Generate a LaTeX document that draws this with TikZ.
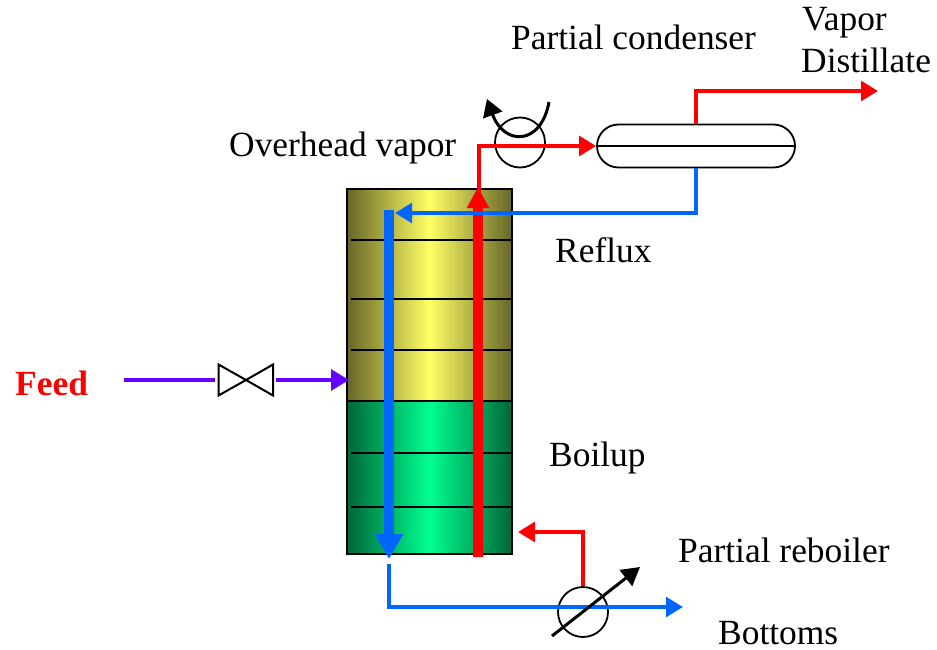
\documentclass[tikz,border=0pt]{standalone}
\usepackage{fontspec}
\setmainfont{Liberation Serif}
\usetikzlibrary{arrows.meta,shapes.misc,calc}
\definecolor{redf}{HTML}{FF0000}
\definecolor{bluef}{HTML}{0066FF}
\definecolor{purf}{HTML}{6600FF}
\definecolor{oliveD}{HTML}{666628}
\definecolor{oliveL}{HTML}{FFFF66}
\definecolor{greenD}{HTML}{006638}
\definecolor{greenL}{HTML}{00FF90}
\tikzset{
  lbl/.style={anchor=base west,inner sep=0pt,font=\fontsize{35.4}{38}\selectfont,text=black},
  thin red/.style={draw=redf,line width=4pt},
  thin blue/.style={draw=bluef,line width=4pt},
  thin pur/.style={draw=purf,line width=4pt},
  thick red/.style={draw=redf,line width=10pt},
  thick blue/.style={draw=bluef,line width=10pt},
  hd/.style={-{Triangle[length=#1,width=#1*1.15]}},
  equip/.style={circle,draw=black,line width=1.8pt,minimum size=50pt,inner sep=0pt},
  tray/.style={draw=black,line width=2.4pt},
  secbox/.style={rectangle,draw=black,line width=2.2pt,minimum width=165pt,inner sep=0pt,shading=axis,shading angle=90},
  ctl/.style={draw=black,line width=3pt}
}
\begin{document}
\begin{tikzpicture}[x=1pt,y=-1pt]
\useasboundingbox (0,0) rectangle (937,650);
% column
\node[secbox,minimum height=212pt,left color=oliveD,right color=oliveD,middle color=oliveL] (top) at (429.5,295) {};
\node[secbox,minimum height=153pt,left color=greenD,right color=greenD,middle color=greenL] (bot) at (429.5,477.5) {};
\foreach \y in {240,299,350,453,507}{
  \draw[tray] (351,\y) -- (511,\y);
}
% equipment
\node[equip] (cond) at (520,142.5) {};
\node[equip] (reb) at (583,612) {};
\node[rounded rectangle,draw=black,line width=1.8pt,minimum width=198pt,minimum height=43pt,inner sep=0pt] (drum) at (696,146) {};
\draw[draw=black,line width=1.8pt] (drum.west) -- (drum.east);
% valve
\coordinate (v) at (246,380);
\draw[black,line width=2pt,line join=miter] (v) -- (218.5,364.5) -- (218.5,395.5) -- (v) -- (273,364.5) -- (273,395.5) -- cycle;
% feed
\coordinate (f0) at (124,380);
\coordinate (f1) at (215,380);
\coordinate (f2) at (276,380);
\coordinate (f3) at (349,380);
\draw[thin pur] (f0) -- (f1);
\draw[thin pur,hd=18pt] (f2) -- (f3);
% vapor
\coordinate (rb) at (478,557);
\coordinate (rt) at (478,187);
\draw[thick red,{Butt Cap[]}-{Triangle[length=21pt,width=21pt]}] (rb) -- (rt);
\draw[thin red,hd=17pt] (479,200) |- (drum.west);
\draw[thin red,hd=17pt] (drum.north) |- (878,91);
% reflux
\draw[thin blue,hd=17pt] (drum.south) |- (395,213);
% liquid
\coordinate (bt) at (389,210);
\coordinate (bb) at (389,559);
\draw[thick blue,-{Triangle[length=25pt,width=27pt]}] (bt) -- (bb);
\coordinate (bs) at (389,564);
\draw[thin blue,hd=17pt] (bs) |- (683,607);
% boilup
\draw[thin red,hd=17pt] (reb.north) |- (518,532);
% controls
\coordinate (a0) at (552,636);
\coordinate (a1) at (640,567);
\draw[ctl,-{Triangle[length=18pt,width=20pt]}] (a0) -- (a1);
\coordinate (c0) at (549,102);
\coordinate (c1) at (487,99);
\draw[ctl,-{Triangle[length=17pt,width=20pt]}] (c0) .. controls (541,146) and (504,146) .. (c1);
% labels
\node[lbl] (l1) at (802,31) {Vapor};
\node[lbl] (l2) at (801,73) {Distillate};
\node[lbl] (l3) at (511,50) {Partial condenser};
\node[lbl] (l4) at (229,157) {Overhead vapor};
\node[lbl] (l5) at (555,262) {Reflux};
\node[lbl] (l6) at (549,466) {Boilup};
\node[lbl] (l7) at (678,562) {Partial reboiler};
\node[lbl] (l8) at (718,644) {Bottoms};
\node[lbl,text=redf,font=\fontsize{35.4}{38}\selectfont\bfseries] (l9) at (15,395) {Feed};
\end{tikzpicture}
\end{document}
